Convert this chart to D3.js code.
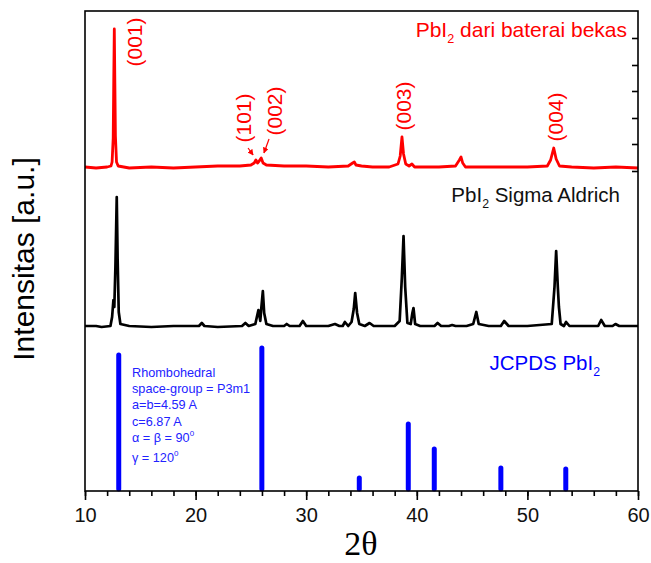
<!DOCTYPE html>
<html>
<head>
<meta charset="utf-8">
<script src="https://cdn.jsdelivr.net/npm/d3@7"></script>
<style>
  body { margin: 0; background: #fff; }
  svg text { font-family: "Liberation Sans", Arial, sans-serif; }
</style>
</head>
<body>
<div id="chart"></div>
<script>
// XRD patterns: [2theta, intensity above own baseline] (a.u.)
const redPattern = [
  [10, 1], [11, 0], [12, 1], [12.35, 2], [12.45, 6], [12.55, 30], [12.6, 88], [12.65, 139],
  [12.7, 85], [12.75, 32], [12.85, 6], [13.0, 2], [14, 0], [16, 1], [18, 0], [20, 1], [22, 2],
  [24, 2], [25.0, 3], [25.3, 5], [25.45, 8], [25.6, 5], [25.75, 7], [25.93, 10], [26.1, 5],
  [26.4, 3], [28, 2], [30, 2], [32, 1], [33.8, 2], [34.2, 5], [34.35, 6], [34.5, 3], [35, 2],
  [36, 1], [37.5, 1], [38.3, 4], [38.5, 12], [38.66, 31], [38.8, 14], [39.0, 4], [39.3, 2],
  [39.56, 4], [39.8, 1], [41, 1], [42, 1], [43.5, 2], [43.85, 8], [44.0, 11], [44.15, 5],
  [44.4, 1], [46, 1], [48, 1], [50, 1], [51.8, 2], [52.1, 8], [52.38, 20], [52.6, 9],
  [52.9, 2], [54, 1], [56, 0], [58, 1], [60, 0]
];
const blackPattern = [
  [10, 1], [11, 1], [11.5, 0], [12.3, 1], [12.45, 10], [12.57, 27], [12.65, 20], [12.75, 60],
  [12.87, 130], [12.95, 68], [13.05, 15], [13.2, 3], [14, 1], [16, 0], [18, 1], [20.3, 1],
  [20.56, 4], [20.8, 1], [22, 0], [24.2, 1], [24.5, 4], [24.8, 1], [25.4, 3], [25.68, 17],
  [25.85, 6], [25.95, 20], [26.08, 36], [26.2, 14], [26.4, 3], [27, 1], [28.0, 1], [28.24, 3],
  [28.5, 1], [29.4, 1], [29.7, 6], [30, 1], [32, 1], [32.6, 3], [33, 1], [33.3, 1], [33.5, 5],
  [33.8, 1], [34.1, 5], [34.3, 18], [34.43, 34], [34.6, 14], [34.8, 3], [35.3, 1], [35.73, 4],
  [36.1, 1], [38, 1], [38.45, 6], [38.65, 50], [38.8, 91], [38.95, 40], [39.15, 4], [39.45, 3],
  [39.6, 14], [39.7, 19], [39.85, 3], [40.3, 1], [41.6, 1], [41.88, 4], [42.2, 1], [42.9, 1],
  [43.2, 2], [43.5, 1], [44.5, 1], [45.1, 3], [45.38, 15], [45.6, 3], [46.5, 1], [47.6, 1],
  [47.9, 6], [48.3, 1], [50, 1], [52.2, 3], [52.45, 40], [52.6, 76], [52.75, 40], [52.85, 20],
  [53.0, 3], [53.3, 1], [53.5, 5], [53.8, 1], [55, 1], [56.4, 1], [56.67, 7], [57, 1],
  [57.7, 1], [57.96, 3], [58.3, 1], [60, 1]
];
const redOffset = 323;
const blackOffset = 164;

// JCPDS reference lines
const jcpdsAngles = [13.05, 25.99, 34.8, 39.23, 41.58, 47.6, 53.47];
const jcpdsIntensity = [138, 145, 15, 69, 44, 25, 24];

// Miller indices on the red pattern (label centre position)
const millerLabels = ["(001)", "(101)", "(002)", "(003)", "(004)"];
const millerAngles = [14.52, 24.29, 27.1, 38.77, 52.5];
const millerHeights = [449, 373, 380, 385, 374];
// arrows: [2theta from, I from, 2theta to, I to]
const millerArrows = [[24.74, 343, 25.2, 336], [26.64, 352, 26.18, 338]];

const xMajorTicks = [10, 20, 30, 40, 50, 60];
const xMinorTicks = d3.range(10, 61, 2);
const rightTicks = [320, 347, 373, 400, 426, 453];

const crystalInfo = ["Rhombohedral", "space-group = P3m1", "a=b=4.59 A", "c=6.87 A"];

const margin = { top: 11, right: 13, bottom: 72, left: 85 },
      width = 651 - margin.left - margin.right,
      height = 563 - margin.top - margin.bottom;

const svg = d3.select("#chart").append("svg")
    .attr("width", 651)
    .attr("height", 563);

const g = svg.append("g")
    .attr("transform", `translate(${margin.left},${margin.top})`);

const x = d3.scaleLinear().domain([10, 60]).range([0, width]);
const y = d3.scaleLinear().domain([0, 480]).range([height, 0]);

// Patterns
const line = offset => d3.line()
    .x(d => x(d[0]))
    .y(d => y(d[1] + offset));

g.append("path")
    .datum(blackPattern)
    .attr("fill", "none")
    .attr("stroke", "#000")
    .attr("stroke-width", 2.7)
    .attr("stroke-linejoin", "round")
    .attr("d", line(blackOffset));

g.append("path")
    .datum(redPattern)
    .attr("fill", "none")
    .attr("stroke", "#ff0000")
    .attr("stroke-width", 2.8)
    .attr("stroke-linejoin", "round")
    .attr("d", line(redOffset));

// JCPDS sticks
g.selectAll(".stick")
    .data(jcpdsAngles)
    .enter()
    .append("line")
    .attr("class", "stick")
    .attr("x1", d => x(d))
    .attr("x2", d => x(d))
    .attr("y1", y(0) - 2)
    .attr("y2", (d, i) => y(jcpdsIntensity[i]) + 2)
    .attr("stroke", "#0000ff")
    .attr("stroke-width", 5)
    .attr("stroke-linecap", "round");

// Frame
g.append("rect")
    .attr("width", width)
    .attr("height", height)
    .attr("fill", "none")
    .attr("stroke", "#000")
    .attr("stroke-width", 1.6);

// Bottom axis: minor + major ticks
g.append("g")
    .attr("transform", `translate(0,${height})`)
    .call(d3.axisBottom(x).tickValues(xMinorTicks).tickSize(5).tickFormat(""))
    .call(a => a.select(".domain").remove())
    .call(a => a.selectAll("line").attr("stroke-width", 1.6));

g.append("g")
    .attr("transform", `translate(0,${height})`)
    .call(d3.axisBottom(x).tickValues(xMajorTicks).tickSize(9).tickPadding(8).tickFormat(d3.format("d")))
    .call(a => a.select(".domain").remove())
    .call(a => a.selectAll("line").attr("stroke-width", 1.6))
    .call(a => a.selectAll("text")
        .attr("font-family", "Liberation Sans, Arial, sans-serif")
        .attr("font-size", 20)
        .attr("fill", "#111"));

// Right axis inner ticks
g.append("g")
    .attr("transform", `translate(${width},0)`)
    .call(d3.axisLeft(y).tickValues(rightTicks).tickSize(6).tickFormat(""))
    .call(a => a.select(".domain").remove())
    .call(a => a.selectAll("line").attr("stroke-width", 1.6));

// Axis titles
svg.append("text")
    .attr("x", 361)
    .attr("y", 555)
    .attr("text-anchor", "middle")
    .style("font-family", "'Liberation Serif', 'Times New Roman', serif")
    .attr("font-size", 34)
    .text("2θ");

svg.append("text")
    .attr("transform", "translate(34,259) rotate(-90)")
    .attr("text-anchor", "middle")
    .attr("font-size", 30)
    .text("Intensitas [a.u.]");

// Sample labels with PbI2 subscript
function formula(sel, before, after, size) {
    sel.append("tspan").text(before + "PbI");
    sel.append("tspan").attr("font-size", size * 0.6).attr("dy", size * 0.3).text("2");
    sel.append("tspan").attr("dy", -size * 0.3).text(after);
}

const redLabel = svg.append("text")
    .attr("x", 627).attr("y", 37)
    .attr("text-anchor", "end")
    .attr("font-size", 21)
    .attr("fill", "#ff0000");
formula(redLabel, "", " dari baterai bekas", 21);

const blackLabel = svg.append("text")
    .attr("x", 620).attr("y", 202)
    .attr("text-anchor", "end")
    .attr("font-size", 20.5)
    .attr("fill", "#111");
formula(blackLabel, "", " Sigma Aldrich", 20.5);

const blueLabel = svg.append("text")
    .attr("x", 600).attr("y", 370)
    .attr("text-anchor", "end")
    .attr("font-size", 20.5)
    .attr("fill", "#0000ff");
formula(blueLabel, "JCPDS ", "", 20.5);

// Miller labels, rotated
g.selectAll(".miller")
    .data(millerLabels)
    .enter()
    .append("text")
    .attr("class", "miller")
    .attr("transform", (d, i) => `translate(${x(millerAngles[i]) + 7.5},${y(millerHeights[i])}) rotate(-90)`)
    .attr("text-anchor", "middle")
    .attr("font-size", 21)
    .attr("fill", "#ff0000")
    .text(d => d);

// Arrows for (101) and (002)
svg.append("defs").append("marker")
    .attr("id", "arrow")
    .attr("viewBox", "0 0 10 10")
    .attr("refX", 9).attr("refY", 5)
    .attr("markerWidth", 5).attr("markerHeight", 5)
    .attr("orient", "auto")
    .append("path")
    .attr("d", "M0,0 L10,5 L0,10 z")
    .attr("fill", "#ff0000");

g.selectAll(".arrow")
    .data(millerArrows)
    .enter()
    .append("line")
    .attr("class", "arrow")
    .attr("x1", d => x(d[0])).attr("y1", d => y(d[1]))
    .attr("x2", d => x(d[2])).attr("y2", d => y(d[3]))
    .attr("stroke", "#ff0000")
    .attr("stroke-width", 1.2)
    .attr("marker-end", "url(#arrow)");

// Crystal info block
const info = svg.append("text")
    .attr("x", 132).attr("y", 377)
    .attr("font-size", 12.7)
    .attr("fill", "#2222ff");
crystalInfo.forEach((t, i) => {
    info.append("tspan").attr("x", 132).attr("dy", i === 0 ? 0 : 16.2).text(t);
});
info.append("tspan").attr("x", 132).attr("dy", 16.5).text("α = β = 90");
info.append("tspan").attr("font-size", 8).attr("dy", -6).text("0");
info.append("tspan").attr("x", 132).attr("dy", 25.5).text("γ = 120");
info.append("tspan").attr("font-size", 8).attr("dy", -6).text("0");
</script>
</body>
</html>
